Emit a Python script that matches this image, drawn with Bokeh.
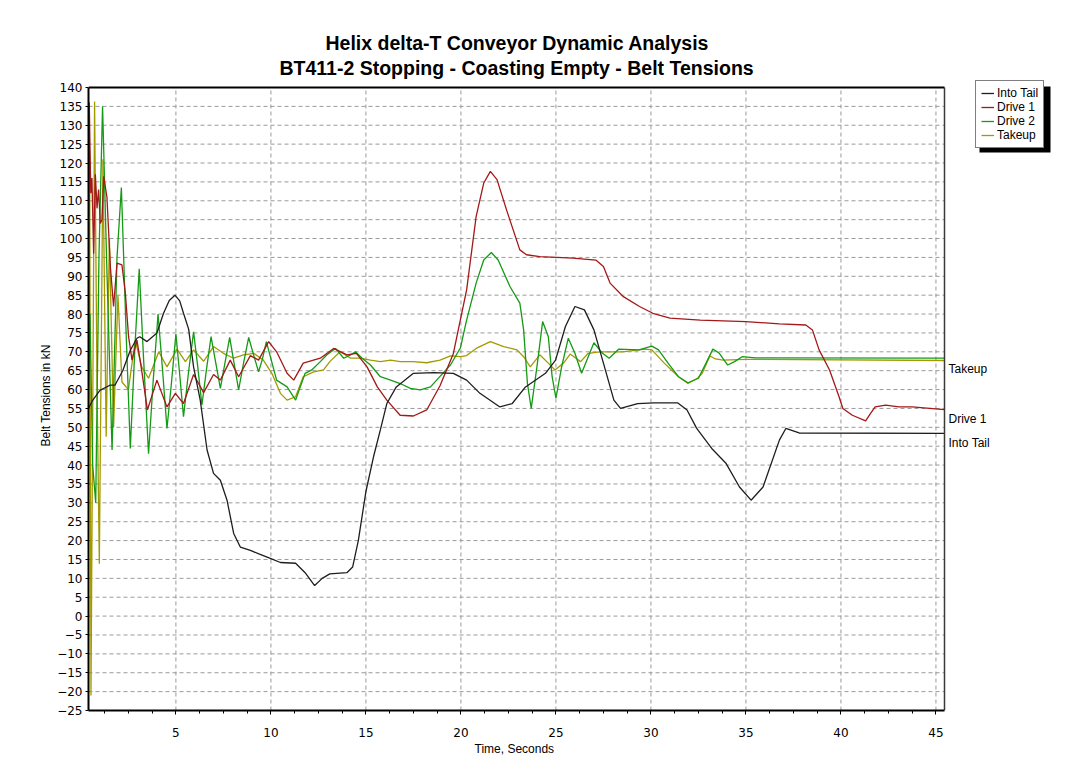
from bokeh.plotting import figure
from bokeh.models import (Range1d, SingleIntervalTicker, Legend, LegendItem, Label, Title,
                          BoxAnnotation)
from bokeh.embed import file_html
from bokeh.resources import INLINE

# ---------------- data ----------------
title_line1 = "Helix delta-T Conveyor Dynamic Analysis"
title_line2 = "BT411-2 Stopping - Coasting Empty - Belt Tensions"
x_label = "Time, Seconds"
y_label = "Belt Tensions in kN"
series_names = ["Into Tail", "Drive 1", "Drive 2", "Takeup"]

t_into_tail = [0.40, 0.60, 1.00, 1.55, 1.80, 2.20, 2.60, 2.95, 3.10, 3.48, 4.00, 4.35, 4.65, 4.95,
               5.20, 5.40, 5.67, 5.93, 6.28, 6.64, 6.98, 7.34, 7.69, 8.04, 8.39, 8.92, 9.40, 10.0,
               10.5, 11.3, 11.8, 12.3, 12.7, 13.1, 14.0, 14.3, 14.6, 15.0, 15.4, 15.76, 16.1, 16.6,
               17.5, 18.56, 19.6, 20.3, 21.0, 22.05, 22.7, 23.4, 24.45, 24.98, 25.5, 26.0, 26.5,
               27.0, 27.5, 28.05, 28.4, 29.3, 30.15, 31.4, 31.9, 32.4, 33.2, 33.96, 34.66, 35.27,
               35.9, 36.76, 37.1, 37.8, 45.45]
v_into_tail = [55.0, 57.0, 59.8, 61.2, 61.2, 65.0, 70.4, 73.6, 74.0, 72.7, 75.0, 80.2, 83.6, 85.0,
               83.5, 80.2, 76.0, 66.0, 57.2, 44.0, 37.8, 36.0, 30.7, 21.9, 18.3, 17.4, 16.4, 15.2,
               14.2, 14.0, 11.5, 8.1, 10.0, 11.2, 11.5, 13.0, 20.0, 33.0, 42.2, 49.3, 56.3, 60.7,
               64.3, 64.5, 64.3, 62.5, 59.0, 55.4, 56.3, 60.7, 64.3, 67.8, 76.7, 82.0, 81.1,
               75.8, 67.0, 57.2, 55.0, 56.3, 56.5, 56.5, 54.6, 49.8, 44.4, 40.4, 34.2, 30.7,
               34.2, 46.6, 49.7, 48.5, 48.4]

t_drive1 = [0.40, 0.44, 0.52, 0.58, 0.67, 0.76, 0.85, 0.93, 1.02, 1.11, 1.20, 1.37, 1.55, 1.72,
            1.90, 2.16, 2.34, 2.51, 2.69, 2.95, 3.20, 3.50, 4.00, 4.53, 4.97, 5.40, 5.93, 6.46,
            6.98, 7.34, 7.86, 8.30, 8.92, 9.35, 9.88, 10.3, 10.85, 11.2, 11.7, 12.6, 13.3, 14.0,
            14.5, 15.06, 15.6, 16.1, 16.8, 17.5, 18.2, 18.9, 19.6, 20.3, 20.8, 21.2, 21.55, 21.9,
            22.4, 22.75, 23.1, 23.45, 24.15, 25.9, 27.1, 27.5, 27.85, 28.55, 29.4, 30.1, 31.0,
            32.6, 35.0, 36.76, 38.15, 38.5, 38.85, 39.4, 39.9, 40.1, 40.6, 41.3, 41.56, 41.8,
            42.35, 43.05, 43.75, 45.45]
v_drive1 = [100.0, 136.0, 112.0, 116.0, 96.0, 117.0, 108.0, 113.0, 104.0, 105.0, 116.5, 111.0,
            92.6, 82.0, 93.5, 93.0, 85.5, 74.0, 67.8, 73.1, 65.0, 54.6, 62.5, 55.4, 59.0, 56.3,
            64.0, 59.2, 64.0, 62.5, 67.8, 63.4, 69.0, 67.8, 72.7, 70.0, 64.3, 62.5, 67.0, 68.3,
            70.9, 69.2, 69.6, 66.0, 60.7, 57.2, 53.2, 53.0, 54.6, 61.0, 69.5, 86.4, 105.8, 114.7,
            117.8, 115.6, 107.6, 102.3, 97.0, 95.7, 95.2, 94.8, 94.3, 92.6, 88.2, 84.6, 82.0,
            80.2, 78.9, 78.4, 78.0, 77.4, 77.1, 75.8, 70.5, 65.2, 58.1, 55.0, 53.2, 51.7, 53.7,
            55.4, 55.9, 55.4, 55.4, 54.7]

t_drive2 = [0.40, 0.48, 0.62, 0.78, 0.95, 1.14, 1.35, 1.64, 1.90, 2.13, 2.38, 2.60, 2.85, 3.07,
            3.30, 3.56, 3.80, 4.06, 4.30, 4.53, 4.77, 5.00, 5.20, 5.40, 5.65, 5.93, 6.15, 6.37,
            6.60, 6.85, 7.10, 7.34, 7.58, 7.83, 8.06, 8.30, 8.56, 8.83, 9.10, 9.35, 9.55, 9.76,
            10.3, 10.85, 11.3, 11.8, 12.15, 12.6, 12.95, 13.4, 13.83, 14.2, 14.45, 14.8, 15.24,
            15.76, 16.3, 16.8, 17.34, 17.86, 18.4, 18.9, 19.45, 19.97, 20.3, 20.8, 21.2, 21.6,
            21.96, 22.58, 23.1, 23.3, 23.5, 23.7, 24.0, 24.3, 24.6, 24.8, 25.0, 25.3, 25.65,
            26.0, 26.35, 26.7, 27.0, 27.45, 27.8, 28.3, 29.37, 30.05, 30.4, 30.9, 31.45, 31.95,
            32.5, 32.9, 33.26, 33.6, 34.04, 34.4, 34.8, 35.5, 45.45]
v_drive2 = [56.0, 80.0, 40.0, 30.0, 95.0, 135.0, 95.0, 44.0, 95.0, 113.5, 75.0, 44.4, 72.0, 92.0,
            68.0, 43.0, 62.0, 80.0, 65.0, 49.7, 62.0, 74.7, 64.0, 52.8, 64.0, 75.3, 66.0, 55.9,
            65.0, 74.0, 67.0, 60.3, 67.0, 73.8, 67.0, 59.9, 67.0, 73.8, 69.0, 64.7, 68.0, 72.7,
            62.5, 60.7, 57.2, 64.3, 65.2, 67.4, 69.2, 70.9, 68.3, 69.2, 70.0, 68.3, 66.5,
            63.4, 62.5, 61.6, 60.3, 59.9, 60.7, 63.5, 66.5, 71.0, 78.4, 88.2, 94.3, 96.3,
            94.3, 87.3, 82.9, 75.8, 61.6, 55.0, 66.0, 78.0, 74.0, 63.4, 57.7, 66.0, 73.6,
            69.6, 64.3, 68.7, 72.4, 69.6, 68.3, 70.7, 70.5, 71.5, 70.5, 67.0, 63.4, 61.8,
            63.0, 67.0, 70.7, 69.6, 66.5, 67.4, 68.7, 68.4, 68.3]

t_takeup = [0.40, 0.46, 0.53, 0.63, 0.72, 0.85, 0.97, 1.16, 1.33, 1.50, 1.72, 1.95, 2.16, 2.50,
            2.86, 3.20, 3.56, 4.10, 4.53, 5.06, 5.50, 5.93, 6.46, 6.98, 7.50, 8.04, 8.56, 9.10,
            9.60, 10.05, 10.5, 10.85, 11.3, 11.7, 12.25, 12.77, 13.1, 13.64, 14.2, 14.7, 15.24,
            15.76, 16.3, 16.8, 17.5, 18.2, 18.9, 19.45, 19.97, 20.3, 20.8, 21.55, 22.25, 22.95,
            23.3, 23.65, 24.15, 24.6, 24.95, 25.4, 25.75, 26.3, 26.7, 27.3, 28.5, 29.7, 30.05,
            30.7, 31.45, 31.95, 32.45, 32.7, 33.1, 33.4, 33.8, 35.0, 45.45]
v_takeup = [70.0, 122.7, -21.0, 60.0, 136.3, 60.0, 13.9, 121.0, 47.5, 100.0, 50.0, 85.0, 62.0,
            60.0, 73.1, 66.0, 63.0, 70.0, 66.0, 70.7, 67.4, 70.5, 67.5, 71.4, 69.6, 68.3, 69.2,
            69.6, 67.8, 64.3, 59.0, 57.2, 58.1, 63.4, 64.7, 65.2, 67.4, 70.0, 68.3, 68.3, 67.8,
            67.4, 67.8, 67.4, 67.4, 67.1, 67.8, 68.9, 68.7, 69.0, 70.9, 72.7, 71.4, 70.5,
            68.7, 66.0, 69.2, 67.0, 65.2, 67.0, 69.4, 67.4, 69.6, 70.0, 70.0, 70.7, 70.5,
            67.0, 63.4, 61.6, 63.0, 64.3, 68.9, 68.1, 67.8, 68.0, 67.7]

# end-of-line labels and the value their text is centred on
end_labels = ["Takeup", "Drive 1", "Into Tail"]
end_label_y = [65.5, 52.3, 45.9]

# axis extents and tick positions
X0, X1 = 0.4, 45.45
Y0, Y1 = -25.0, 140.0
x_grid_ticks = [5, 10, 15, 20, 25, 30, 35, 40, 45]
y_grid_ticks = list(range(-20, 140, 5))

# ---------------- layout (pixels) ----------------
W, H = 1070, 775
PLOT_L, PLOT_R, PLOT_T, PLOT_B = 88, 944, 87, 710     # plotting box of the reference
FRAME_T = 80                                           # frame extended up/right for the legend
SX = (X1 - X0) / (PLOT_R - PLOT_L)
SY = (Y1 - Y0) / (PLOT_B - PLOT_T)
x_frame_end = X1 + (W - PLOT_R) * SX
y_frame_top = Y1 + (PLOT_T - FRAME_T) * SY

def px_to_x(px):
    return X0 + (px - PLOT_L) * SX

def py_to_y(py):
    return Y1 - (py - PLOT_T) * SY

FONT = "Liberation Sans"
TICK_FONT = "DejaVu Sans"
colors = ["#1e1e1e", "#a31818", "#149a14", "#a39a00"]

p = figure(width=W, height=H, output_backend="svg", toolbar_location=None,
           x_range=Range1d(X0, x_frame_end), y_range=Range1d(Y0, y_frame_top),
           min_border_left=PLOT_L, min_border_right=0, min_border_top=FRAME_T,
           min_border_bottom=H - PLOT_B,
           background_fill_color="white", border_fill_color="white")
p.title = None
p.outline_line_color = None
p.grid.visible = False

# left-aligned titles, offset so that they sit centred over the plotting box
p.add_layout(Title(text=title_line2, align="left", offset=279 - PLOT_L,
                   text_font=FONT, text_font_size="19.5px", text_font_style="bold",
                   text_color="black", standoff=3), "above")
p.add_layout(Title(text=title_line1, align="left", offset=325 - PLOT_L,
                   text_font=FONT, text_font_size="19.5px", text_font_style="bold",
                   text_color="black", standoff=0), "above")

p.xaxis.ticker = SingleIntervalTicker(interval=5, num_minor_ticks=4)
p.yaxis.ticker = SingleIntervalTicker(interval=5, num_minor_ticks=0)
p.xaxis.bounds = (X0, X1)
p.yaxis.bounds = (Y0, Y1)
for ax in (p.xaxis[0], p.yaxis[0]):
    ax.axis_line_color = "black"
    ax.axis_line_width = 2
    ax.major_tick_line_color = "black"
    ax.minor_tick_line_color = "black"
    ax.major_tick_in = 0
    ax.minor_tick_in = 0
    ax.major_label_text_font = TICK_FONT
    ax.major_label_text_font_size = "12px"
    ax.major_label_text_color = "black"
    ax.axis_label_text_font = FONT
    ax.axis_label_text_font_size = "12px"
    ax.axis_label_text_font_style = "normal"
    ax.axis_label_text_color = "black"
p.xaxis.major_tick_out = 4
p.xaxis.minor_tick_out = 3
p.xaxis.major_label_standoff = 13
p.yaxis.major_tick_out = 3
p.yaxis.major_label_standoff = 3
p.yaxis.axis_label_standoff = 1
p.yaxis.axis_label = y_label

p.add_layout(Title(text=x_label, align="left", offset=474 - PLOT_L,
                   text_font=FONT, text_font_size="12px", text_font_style="normal",
                   text_color="black", standoff=0), "below")

# dashed grid inside the plotting box
p.segment(x0=x_grid_ticks, x1=x_grid_ticks, y0=[Y0] * len(x_grid_ticks), y1=[Y1] * len(x_grid_ticks),
          line_color="#9a9a9a", line_dash="4 3", line_width=1)
p.segment(x0=[X0] * len(y_grid_ticks), x1=[X1] * len(y_grid_ticks), y0=y_grid_ticks, y1=y_grid_ticks,
          line_color="#9a9a9a", line_dash="4 3", line_width=1)

series = [(t_into_tail, v_into_tail), (t_drive1, v_drive1), (t_drive2, v_drive2), (t_takeup, v_takeup)]
rmap = {}
for i in [3, 2, 1, 0]:
    t, v = series[i]
    rmap[i] = p.line(t, v, line_color=colors[i], line_width=1.3)
renderers = [rmap[i] for i in range(4)]

# top and right border of the plotting box
p.segment(x0=[X0], x1=[X1], y0=[Y1], y1=[Y1], line_color="black", line_width=2)
p.segment(x0=[X1], x1=[X1], y0=[Y0], y1=[Y1], line_color="#3a3a3a", line_width=1.5)

# legend with its drop shadow
p.add_layout(BoxAnnotation(left=px_to_x(979), right=px_to_x(1050), top=py_to_y(86),
                           bottom=py_to_y(152), fill_color="black", fill_alpha=1.0, line_alpha=0))
legend = Legend(items=[LegendItem(label=n, renderers=[r]) for n, r in zip(series_names, renderers)],
                location=(975 - PLOT_L, PLOT_B - 148), margin=0, padding=5, spacing=0,
                label_height=14, glyph_height=14, glyph_width=13, label_standoff=3,
                label_text_font=FONT, label_text_font_size="12px", label_text_color="black",
                border_line_color="black", border_line_width=1, background_fill_color="white",
                background_fill_alpha=1.0)
p.add_layout(legend, "center")

for txt, yv in zip(end_labels, end_label_y):
    p.add_layout(Label(x=X1, y=yv, x_offset=4, text=txt, text_baseline="middle",
                       text_font=FONT, text_font_size="12px", text_color="black"))

open("out.html", "w").write(file_html(p, INLINE))
